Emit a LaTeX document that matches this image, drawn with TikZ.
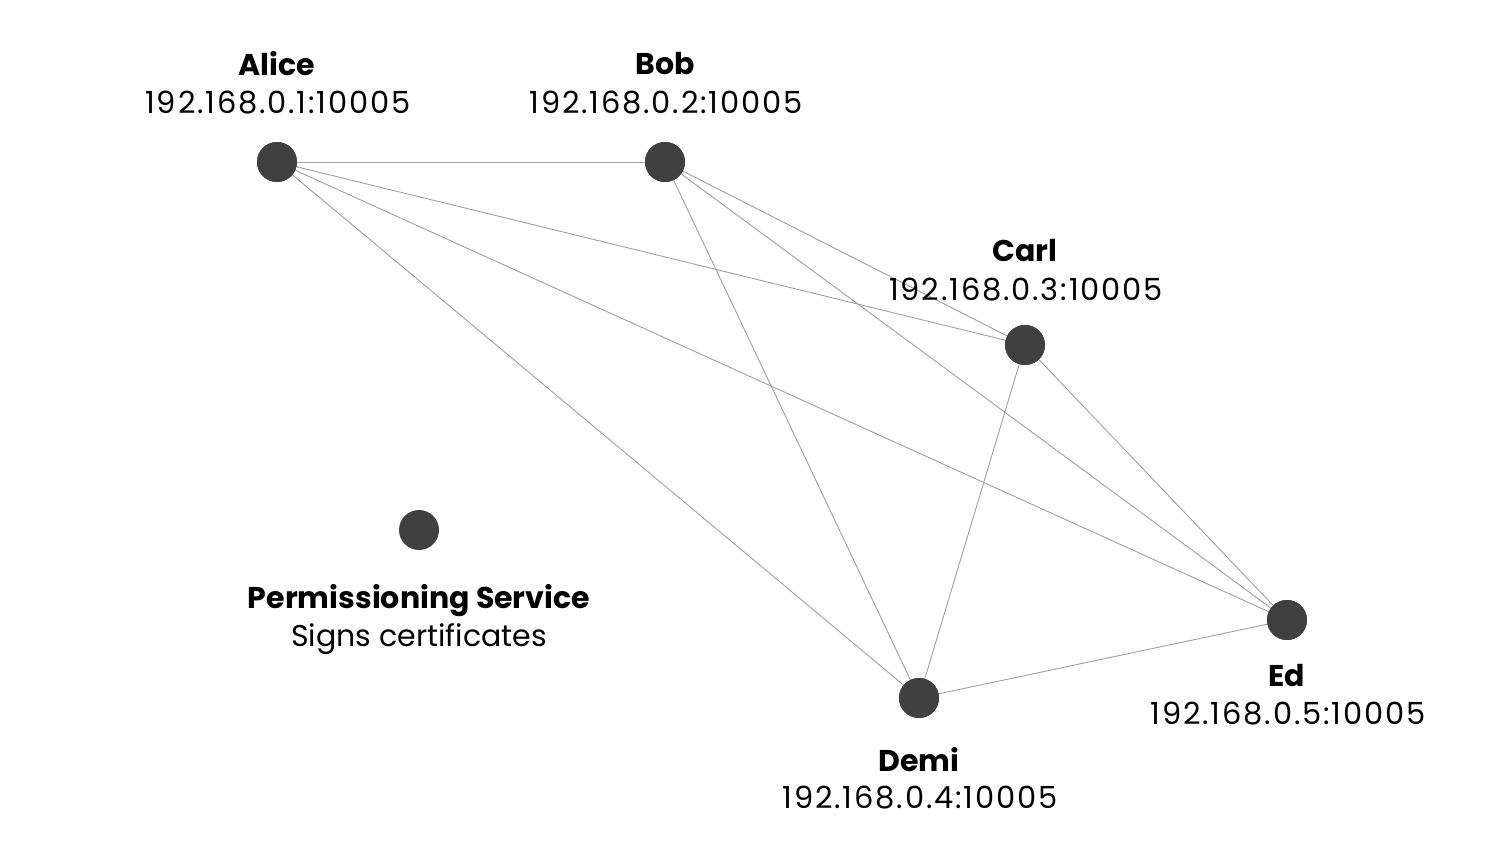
\documentclass[tikz,border=0pt]{standalone}
\usepackage{fontspec}
\setmainfont{Poppins}
\usetikzlibrary{calc}

\tikzset{
  peer/.style={circle,fill=peerfill,draw=none,minimum size=40pt,inner sep=0pt},
  link/.style={draw=linkgray,line width=0.9pt},
  nametext/.style={font=\fontsize{30}{34}\selectfont\bfseries,inner sep=0pt,text=black},
  addrtext/.style={font=\fontsize{30}{34}\selectfont,inner sep=0pt,text=black},
  iptext/.style={font=\fontsize{30.5}{34}\selectfont\addfontfeatures{LetterSpace=6},inner sep=0pt,text=black}
}
\definecolor{peerfill}{HTML}{404040}
\definecolor{linkgray}{HTML}{A0A0A0}

\begin{document}
\begin{tikzpicture}[x=1pt,y=-1pt]
\useasboundingbox[fill=white] (0,0) rectangle (1490,864);
% nodes of the network
\node[peer] (alice) at (277,162) {};
\node[peer] (bob)   at (665,162) {};
\node[peer] (carl)  at (1025,345) {};
\node[peer] (demi)  at (919,698) {};
\node[peer] (ed)    at (1287,620) {};
\node[peer] (perm)  at (419,530) {};
% links, every peer to every peer
\foreach \a/\b in {alice/bob,alice/carl,alice/demi,alice/ed,bob/carl,bob/demi,bob/ed,carl/demi,carl/ed,demi/ed}
  \draw[link] (\a) -- (\b);
\node[peer] at (alice) {};
\node[peer] at (bob) {};
\node[peer] at (carl) {};
\node[peer] at (demi) {};
\node[peer] at (ed) {};
% labels
\node[nametext] (alicename) at (277,64) {Alice};
\node[iptext] (aliceaddr) at (278,103) {192.168.0.1:10005};
\node[nametext] (bobname) at (665,64) {Bob};
\node[iptext] (bobaddr) at (666,103) {192.168.0.2:10005};
\node[nametext] (carlname) at (1025,251) {Carl};
\node[iptext] (carladdr) at (1026,290) {192.168.0.3:10005};
\node[nametext] (deminame) at (919,760) {Demi};
\node[iptext] (demiaddr) at (920,798) {192.168.0.4:10005};
\node[nametext] (edname) at (1287,676) {Ed};
\node[iptext] (edaddr) at (1288,714) {192.168.0.5:10005};
\node[nametext] (permname) at (419,601) {Permissioning Service};
\node[addrtext] (permtext) at (419,639) {Signs certificates};
\end{tikzpicture}
\end{document}
